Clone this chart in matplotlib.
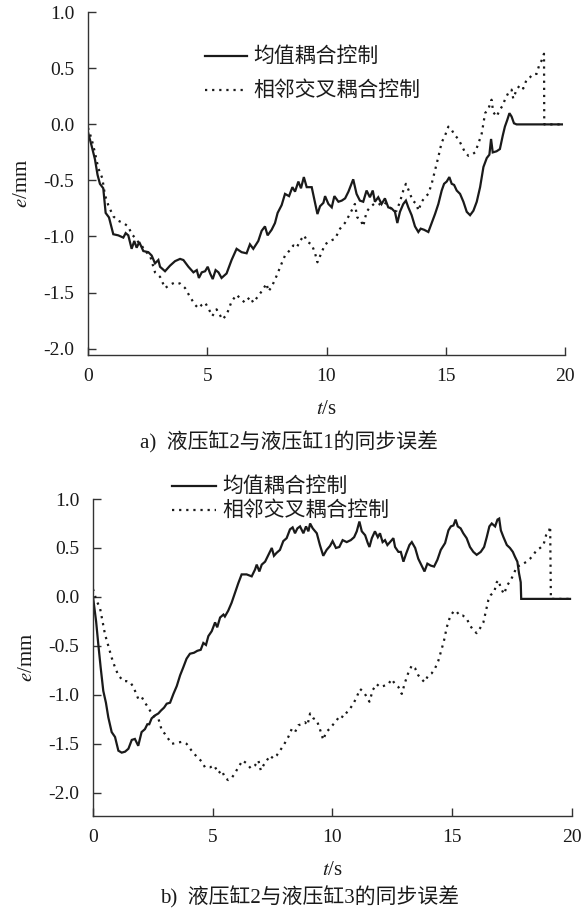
import matplotlib
matplotlib.use('Agg')
import matplotlib.pyplot as plt
from matplotlib.lines import Line2D

plt.rcParams['font.family'] = ['Liberation Serif', 'Noto Sans CJK SC']
plt.rcParams['mathtext.fontset'] = 'stix'
plt.rcParams['axes.unicode_minus'] = False

# a) cylinder 2 vs cylinder 1
t_a_mean = [0, 0.15, 0.29, 0.4, 0.5, 0.64, 0.74, 0.88, 1.06, 1.27, 1.48, 1.58, 1.69, 1.83, 1.94,
            2.04, 2.15, 2.32, 2.53, 2.67, 2.81, 2.95, 3.02, 3.23, 3.44, 3.65, 3.86, 4.0, 4.21, 4.42,
            4.56, 4.65, 4.77, 4.91, 5.02, 5.12, 5.23, 5.35, 5.47, 5.6, 5.81, 6.02, 6.23, 6.44, 6.65,
            6.79, 6.93, 7.14, 7.28, 7.42, 7.53, 7.7, 7.84, 7.95, 8.12, 8.26, 8.43, 8.57, 8.68, 8.82,
            8.93, 9.05, 9.17, 9.38, 9.52, 9.62, 9.73, 9.87, 9.94, 10.08, 10.22, 10.33, 10.50, 10.64,
            10.78, 10.92, 11.12, 11.26, 11.40, 11.54, 11.68, 11.82, 11.94, 12.03, 12.17, 12.31, 12.45,
            12.59, 12.73, 12.87, 12.97, 13.08, 13.22, 13.33, 13.43, 13.57, 13.71, 13.85, 13.95, 14.09,
            14.27, 14.41, 14.55, 14.69, 14.83, 14.93, 15.04, 15.15, 15.25, 15.35, 15.46, 15.60, 15.74,
            15.88, 16.02, 16.16, 16.30, 16.44, 16.58, 16.72, 16.83, 16.90, 16.97, 17.13, 17.27, 17.39,
            17.48, 17.58, 17.67, 17.76, 17.86, 17.97, 19.87]
e_a_mean = [-0.07, -0.19, -0.31, -0.45, -0.53, -0.57, -0.79, -0.83, -0.98, -0.99, -1.01, -0.97, -0.99,
            -1.11, -1.04, -1.10, -1.05, -1.13, -1.14, -1.17, -1.24, -1.21, -1.27, -1.31, -1.26, -1.22,
            -1.20, -1.21, -1.27, -1.32, -1.30, -1.37, -1.32, -1.31, -1.27, -1.33, -1.38, -1.30, -1.32,
            -1.37, -1.33, -1.21, -1.11, -1.14, -1.15, -1.07, -1.11, -1.04, -0.95, -0.91, -0.99, -0.94,
            -0.88, -0.79, -0.72, -0.62, -0.64, -0.56, -0.60, -0.51, -0.57, -0.47, -0.56, -0.56, -0.70,
            -0.80, -0.73, -0.70, -0.64, -0.71, -0.74, -0.64, -0.69, -0.68, -0.66, -0.60, -0.49, -0.62,
            -0.68, -0.69, -0.59, -0.65, -0.59, -0.69, -0.65, -0.71, -0.66, -0.74, -0.75, -0.78, -0.88,
            -0.78, -0.71, -0.68, -0.74, -0.81, -0.91, -0.96, -0.93, -0.94, -0.96, -0.88, -0.80, -0.71,
            -0.59, -0.53, -0.51, -0.47, -0.53, -0.54, -0.59, -0.62, -0.69, -0.78, -0.81, -0.77, -0.69,
            -0.56, -0.38, -0.30, -0.27, -0.13, -0.25, -0.24, -0.22, -0.10, -0.02, 0.04, 0.10, 0.07,
            0.01, 0.0, 0.0]

t_a_cross = [0, 0.15, 0.29, 0.43, 0.6, 0.71, 0.85, 1.06, 1.27, 1.48, 1.69, 1.83, 1.97, 2.11, 2.25,
             2.39, 2.6, 2.81, 3.02, 3.23, 3.44, 3.65, 3.86, 4.07, 4.28, 4.49, 4.63, 4.77, 4.91, 5.07,
             5.21, 5.39, 5.53, 5.63, 5.81, 6.02, 6.23, 6.37, 6.58, 6.79, 6.93, 7.07, 7.28, 7.49, 7.56,
             7.7, 7.91, 8.12, 8.26, 8.43, 8.61, 8.75, 8.89, 9.06, 9.21, 9.38, 9.52, 9.62, 9.8, 9.94,
             10.15, 10.36, 10.57, 10.77, 10.98, 11.12, 11.19, 11.29, 11.43, 11.54, 11.68, 11.82, 11.99,
             12.17, 12.38, 12.52, 12.66, 12.83, 12.94, 13.08, 13.22, 13.33, 13.47, 13.61, 13.78, 13.85,
             13.99, 14.13, 14.27, 14.41, 14.55, 14.69, 14.83, 14.97, 15.11, 15.25, 15.39, 15.53, 15.67,
             15.81, 15.95, 16.09, 16.23, 16.37, 16.51, 16.65, 16.79, 16.92, 16.99, 17.13, 17.27, 17.39,
             17.48, 17.62, 17.76, 17.83, 17.97, 18.11, 18.25, 18.39, 18.53, 18.67, 18.81, 18.92, 19.02,
             19.12, 19.13, 19.87]
e_a_cross = [-0.03, -0.13, -0.25, -0.39, -0.48, -0.63, -0.72, -0.82, -0.86, -0.88, -0.91, -0.98,
             -1.01, -1.05, -1.08, -1.13, -1.17, -1.32, -1.36, -1.46, -1.43, -1.41, -1.42, -1.46, -1.54,
             -1.61, -1.64, -1.61, -1.59, -1.65, -1.71, -1.65, -1.70, -1.74, -1.70, -1.58, -1.52, -1.55,
             -1.59, -1.54, -1.59, -1.55, -1.49, -1.42, -1.49, -1.45, -1.35, -1.24, -1.17, -1.13, -1.08,
             -1.10, -1.04, -0.99, -1.05, -1.07, -1.15, -1.23, -1.14, -1.07, -1.04, -1.02, -0.93, -0.88,
             -0.80, -0.74, -0.71, -0.83, -0.85, -0.91, -0.78, -0.74, -0.71, -0.72, -0.69, -0.71, -0.74,
             -0.78, -0.77, -0.69, -0.59, -0.53, -0.60, -0.68, -0.71, -0.77, -0.69, -0.65, -0.62, -0.53,
             -0.41, -0.29, -0.16, -0.10, -0.02, -0.05, -0.10, -0.13, -0.19, -0.25, -0.28, -0.27, -0.25,
             -0.17, -0.08, 0.10, 0.14, 0.22, 0.11, 0.07, 0.13, 0.17, 0.22, 0.28, 0.31, 0.23, 0.31, 0.35,
             0.32, 0.40, 0.42, 0.45, 0.45, 0.53, 0.57, 0.63, 0.0, 0.0]

# b) cylinder 2 vs cylinder 3
t_b_mean = [0, 0.13, 0.22, 0.32, 0.43, 0.54, 0.64, 0.78, 0.92, 1.06, 1.20, 1.34, 1.48, 1.62, 1.75,
            1.89, 2.03, 2.17, 2.27, 2.35, 2.45, 2.59, 2.73, 2.84, 2.97, 3.08, 3.22, 3.36, 3.50, 3.64,
            3.77, 3.91, 4.05, 4.22, 4.36, 4.50, 4.61, 4.72, 4.82, 4.96, 5.10, 5.19, 5.31, 5.45, 5.51,
            5.65, 5.79, 5.93, 6.07, 6.21, 6.42, 6.63, 6.77, 6.84, 6.95, 7.05, 7.19, 7.33, 7.47, 7.56,
            7.67, 7.81, 7.95, 8.09, 8.23, 8.34, 8.44, 8.54, 8.65, 8.79, 8.90, 9.00, 9.07, 9.18, 9.35,
            9.48, 9.62, 9.76, 9.90, 10.01, 10.15, 10.29, 10.43, 10.60, 10.77, 10.91, 11.02, 11.13,
            11.23, 11.37, 11.48, 11.55, 11.65, 11.78, 11.90, 11.99, 12.10, 12.20, 12.30, 12.41, 12.55,
            12.62, 12.76, 12.86, 12.97, 13.08, 13.22, 13.32, 13.46, 13.59, 13.73, 13.85, 13.97, 14.11,
            14.25, 14.39, 14.53, 14.71, 14.85, 14.95, 15.06, 15.15, 15.24, 15.36, 15.47, 15.61, 15.75,
            15.89, 16.03, 16.20, 16.34, 16.45, 16.56, 16.66, 16.80, 16.90, 16.97, 17.04, 17.15, 17.29,
            17.42, 17.54, 17.63, 17.73, 17.80, 17.87, 17.89, 19.93]
e_b_mean = [0.0, -0.25, -0.48, -0.72, -0.96, -1.08, -1.23, -1.38, -1.43, -1.57, -1.59, -1.58, -1.55,
            -1.46, -1.45, -1.52, -1.38, -1.35, -1.30, -1.30, -1.24, -1.21, -1.19, -1.16, -1.13, -1.09,
            -1.08, -0.99, -0.91, -0.80, -0.72, -0.63, -0.58, -0.57, -0.55, -0.54, -0.47, -0.49, -0.40,
            -0.35, -0.26, -0.31, -0.21, -0.18, -0.20, -0.14, -0.06, 0.04, 0.14, 0.23, 0.23, 0.21, 0.28,
            0.33, 0.26, 0.33, 0.36, 0.43, 0.50, 0.42, 0.45, 0.48, 0.57, 0.60, 0.69, 0.71, 0.65, 0.70,
            0.72, 0.65, 0.72, 0.67, 0.75, 0.70, 0.65, 0.53, 0.42, 0.48, 0.52, 0.57, 0.50, 0.51, 0.58,
            0.56, 0.58, 0.61, 0.67, 0.77, 0.67, 0.63, 0.55, 0.51, 0.60, 0.67, 0.61, 0.65, 0.56, 0.58,
            0.53, 0.56, 0.60, 0.51, 0.46, 0.46, 0.36, 0.44, 0.53, 0.56, 0.50, 0.39, 0.32, 0.26, 0.34,
            0.32, 0.31, 0.38, 0.48, 0.55, 0.68, 0.72, 0.73, 0.79, 0.72, 0.70, 0.65, 0.60, 0.51, 0.46,
            0.43, 0.46, 0.51, 0.61, 0.72, 0.75, 0.72, 0.79, 0.80, 0.68, 0.61, 0.53, 0.50, 0.46, 0.41,
            0.36, 0.24, 0.15, -0.02, -0.02]

t_b_cross = [0, 0.15, 0.29, 0.40, 0.50, 0.64, 0.78, 0.92, 1.06, 1.27, 1.41, 1.55, 1.69, 1.89, 2.03,
             2.17, 2.31, 2.45, 2.59, 2.73, 2.87, 3.01, 3.15, 3.29, 3.50, 3.70, 3.91, 4.12, 4.33, 4.54,
             4.68, 4.89, 5.06, 5.24, 5.38, 5.52, 5.65, 5.79, 5.93, 6.07, 6.25, 6.42, 6.59, 6.77, 6.91,
             7.01, 7.12, 7.26, 7.40, 7.53, 7.67, 7.81, 7.95, 8.16, 8.30, 8.44, 8.58, 8.72, 8.86, 8.96,
             9.07, 9.21, 9.35, 9.48, 9.62, 9.74, 9.87, 10.04, 10.18, 10.32, 10.46, 10.60, 10.74, 10.88,
             11.02, 11.16, 11.30, 11.41, 11.55, 11.69, 11.85, 11.99, 12.13, 12.34, 12.48, 12.62, 12.76,
             12.90, 13.04, 13.18, 13.32, 13.46, 13.59, 13.73, 13.85, 14.01, 14.15, 14.29, 14.43, 14.57,
             14.67, 14.78, 14.92, 15.06, 15.17, 15.31, 15.45, 15.61, 15.75, 15.89, 16.03, 16.17, 16.31,
             16.42, 16.52, 16.62, 16.76, 16.87, 16.94, 17.04, 17.17, 17.31, 17.45, 17.59, 17.70, 17.84,
             17.98, 18.12, 18.26, 18.40, 18.54, 18.68, 18.82, 18.93, 19.03, 19.10, 19.13, 19.93]
e_b_cross = [0.08, -0.04, -0.11, -0.25, -0.38, -0.50, -0.62, -0.72, -0.80, -0.86, -0.86, -0.87, -0.92,
             -1.04, -1.02, -1.08, -1.13, -1.19, -1.23, -1.24, -1.36, -1.40, -1.45, -1.50, -1.49, -1.48,
             -1.50, -1.57, -1.63, -1.68, -1.74, -1.74, -1.72, -1.80, -1.77, -1.85, -1.87, -1.85, -1.80,
             -1.74, -1.67, -1.70, -1.75, -1.72, -1.67, -1.77, -1.72, -1.67, -1.62, -1.65, -1.62, -1.57,
             -1.52, -1.43, -1.35, -1.38, -1.31, -1.30, -1.28, -1.31, -1.19, -1.24, -1.26, -1.35, -1.46,
             -1.38, -1.35, -1.30, -1.26, -1.21, -1.23, -1.18, -1.14, -1.09, -1.02, -0.94, -0.97, -1.01,
             -1.07, -0.95, -0.89, -0.92, -0.91, -0.89, -0.84, -0.89, -0.92, -0.99, -0.87, -0.77, -0.70,
             -0.73, -0.80, -0.84, -0.87, -0.80, -0.78, -0.73, -0.65, -0.53, -0.44, -0.31, -0.20, -0.15,
             -0.14, -0.19, -0.19, -0.22, -0.29, -0.34, -0.37, -0.32, -0.26, -0.14, -0.03, 0.02, 0.05,
             0.15, 0.17, 0.09, 0.03, 0.12, 0.17, 0.24, 0.31, 0.32, 0.34, 0.36, 0.39, 0.43, 0.48, 0.50,
             0.53, 0.63, 0.65, 0.72, -0.02, -0.02]

labels = ['均值耦合控制', '相邻交叉耦合控制']
captions = ['a)  液压缸2与液压缸1的同步误差', 'b)  液压缸2与液压缸3的同步误差']
yticks = [-2.0, -1.5, -1.0, -0.5, 0.0, 0.5, 1.0]
xticks = [0, 5, 10, 15, 20]

W, H = 586, 913
ink = '#1a1a1a'
fig = plt.figure(figsize=(W / 100, H / 100), dpi=100)


def px_ax(l, t, r, b):
    return [l / W, 1 - b / H, (r - l) / W, (b - t) / H]


def draw_panel(rect, ylow, mean_t, mean_e, cross_t, cross_e):
    ax = fig.add_axes(px_ax(*rect))
    ax.plot(mean_t, mean_e, color=ink, lw=1.6, solid_joinstyle='miter')
    ax.plot(cross_t, cross_e, color=ink, lw=1.6, linestyle=(0, (1, 2.2)))
    ax.set_xlim(0, 20)
    ax.set_ylim(ylow, 1.0)
    ax.set_xticks(xticks)
    ax.set_yticks(yticks)
    ax.set_yticklabels(['%.1f' % v for v in yticks])
    for s in ['top', 'right']:
        ax.spines[s].set_visible(False)
    for s in ['left', 'bottom']:
        ax.spines[s].set_linewidth(1.0)
        ax.spines[s].set_color('#333333')
    ax.tick_params(direction='in', length=6, width=1.0, color='#333333',
                   labelsize=14, labelcolor=ink)
    ax.tick_params(axis='y', pad=10)
    ax.tick_params(axis='x', pad=9)
    ax.set_xlabel(r'$\it{t}$/s', fontsize=15, color=ink, labelpad=11)
    ax.set_ylabel(r'$\it{e}$/mm', fontsize=15, color=ink, labelpad=8)
    return ax


def draw_legend(x0, x1, xt, y1, y2):
    for y, ls, lab in [(y1, '-', labels[0]), (y2, (0, (1, 2.2)), labels[1])]:
        fig.add_artist(Line2D([x0 / W, x1 / W], [1 - y / H, 1 - y / H], transform=fig.transFigure,
                              color=ink, lw=1.6, linestyle=ls))
        fig.text(xt / W, 1 - y / H, lab, fontsize=15, color=ink, ha='left', va='center',
                 family=['Noto Sans CJK SC'])


draw_panel((88, 12.3, 565, 355.3), -2.06, t_a_mean, e_a_mean, t_a_cross, e_a_cross)
draw_legend(205, 247, 253, 56, 90)
fig.text(289 / W, 1 - 442 / H, captions[0], fontsize=15, color=ink, ha='center', va='center')

draw_panel((93, 499, 571.7, 816.3), -2.24, t_b_mean, e_b_mean, t_b_cross, e_b_cross)
draw_legend(172, 216, 222, 486, 510)
fig.text(310 / W, 1 - 897 / H, captions[1], fontsize=15, color=ink, ha='center', va='center')

fig.savefig('out.png', dpi=100)
